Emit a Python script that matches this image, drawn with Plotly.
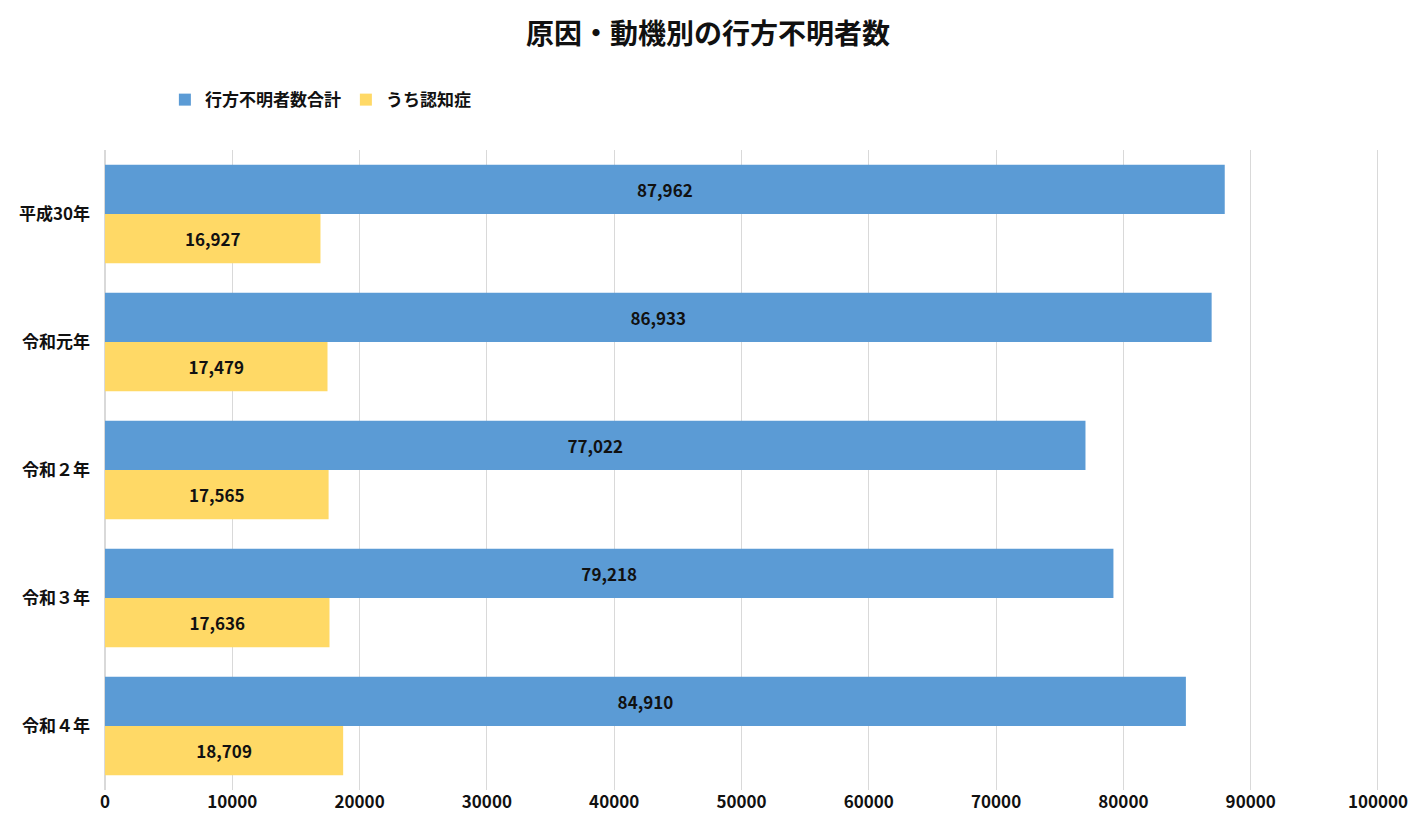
import plotly.graph_objects as go

categories = ["平成30年", "令和元年", "令和２年", "令和３年", "令和４年"]
total = [87962, 86933, 77022, 79218, 84910]
dementia = [16927, 17479, 17565, 17636, 18709]
series_names = ["行方不明者数合計", "うち認知症"]
x_ticks = [0, 10000, 20000, 30000, 40000, 50000, 60000, 70000, 80000, 90000, 100000]

FONT = "Noto Sans CJK JP"

fig = go.Figure()
for name, vals, color in [(series_names[0], total, "#5B9BD5"), (series_names[1], dementia, "#FFD966")]:
    fig.add_trace(go.Bar(
        y=categories, x=vals, name=name, orientation="h",
        marker=dict(color=color, line=dict(width=0)),
        text=[f"{v:,}" for v in vals], textposition="inside",
        insidetextanchor="middle",
        textfont=dict(family=FONT, size=17, color="#111111", weight="bold"),
        constraintext="none",
    ))

fig.update_layout(
    width=1420, height=834,
    barmode="group", bargap=0.23, bargroupgap=0,
    plot_bgcolor="white", paper_bgcolor="white",
    margin=dict(l=97, r=49, t=142, b=52),
    font=dict(family=FONT, color="#111111"),
    title=dict(text="<b>原因・動機別の行方不明者数</b>", x=0.493, xanchor="center",
               y=0.968, yanchor="middle", font=dict(family=FONT, size=28, color="#111111")),
    legend=dict(orientation="h", x=0.047, xanchor="left", y=1.078, yanchor="middle",
                font=dict(family=FONT, size=17, color="#111111", weight="bold"),
                itemwidth=30, traceorder="normal"),
    uniformtext=dict(mode=False),
)
fig.update_xaxes(range=[0, 100080], tickvals=x_ticks, ticktext=[str(t) for t in x_ticks],
                 showgrid=True, gridcolor="#D9D9D9", gridwidth=1, zeroline=True,
                 zerolinecolor="#D9D9D9", showline=False,
                 tickfont=dict(family=FONT, size=17, color="#111111", weight="bold"))
fig.update_yaxes(autorange="reversed", showgrid=False, showline=False, ticks="",
                 ticklabelstandoff=14,
                 tickfont=dict(family=FONT, size=17, color="#111111", weight="bold"))

fig.write_html("out.html")
